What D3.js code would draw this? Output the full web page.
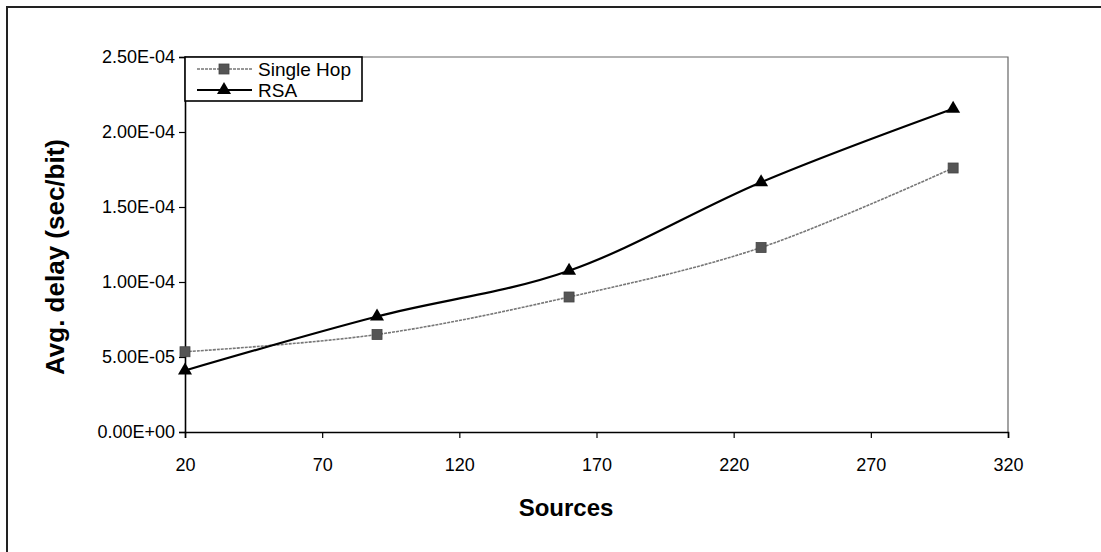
<!DOCTYPE html>
<html>
<head>
<meta charset="utf-8">
<script src="https://cdn.jsdelivr.net/npm/d3@7"></script>
<style>
  html, body { margin: 0; padding: 0; background: #fff; }
  svg { display: block; }
  text { font-family: "Liberation Sans", Arial, sans-serif; fill: #000; }
</style>
</head>
<body>
<svg id="chart" width="1101" height="552"></svg>
<script>
// Number of sources on the network
const sources = [20, 90, 160, 230, 300];
// Average delay per bit (seconds)
const singleHop = [5.35e-5, 6.5e-5, 9.0e-5, 1.23e-4, 1.76e-4];
const rsa = [4.1e-5, 7.7e-5, 1.075e-4, 1.665e-4, 2.155e-4];
const xTicks = [20, 70, 120, 170, 220, 270, 320];
const yTicks = [0, 5e-5, 1e-4, 1.5e-4, 2e-4, 2.5e-4];
const seriesNames = ["Single Hop", "RSA"];

const svg = d3.select("#chart");
const plot = { left: 185, right: 1008, top: 57, bottom: 432 };

const x = d3.scaleLinear().domain([20, 320]).range([plot.left, plot.right]);
const y = d3.scaleLinear().domain([0, 2.5e-4]).range([plot.bottom, plot.top]);

// outer frame (top and left edges)
svg.append("path")
  .attr("d", "M7,552 V7 H1101")
  .attr("fill", "none").attr("stroke", "#222").attr("stroke-width", 2);

// plot area border on the top and right
svg.append("path")
  .attr("d", `M${plot.left},${plot.top} H${plot.right} V${plot.bottom}`)
  .attr("fill", "none").attr("stroke", "#666").attr("stroke-width", 1.2);

const fmt = v => v === 0 ? "0.00E+00" : (() => {
  const e = Math.floor(Math.log10(v) + 1e-9);
  const m = v / Math.pow(10, e);
  const es = (e < 0 ? "-" : "+") + String(Math.abs(e)).padStart(2, "0");
  return m.toFixed(2) + "E" + es;
})();

// y axis
const yAxis = svg.append("g")
  .attr("transform", `translate(${plot.left},0)`)
  .call(d3.axisLeft(y).tickValues(yTicks).tickFormat(fmt).tickSize(6).tickPadding(4));
yAxis.select(".domain").attr("stroke", "#000").attr("stroke-width", 1.6);
yAxis.selectAll(".tick line").attr("stroke", "#000").attr("stroke-width", 1.2);
yAxis.selectAll(".tick text").style("font-size", "18px").style("font-family", "Liberation Sans, Arial, sans-serif");

// x axis
const xAxis = svg.append("g")
  .attr("transform", `translate(0,${plot.bottom})`)
  .call(d3.axisBottom(x).tickValues(xTicks).tickFormat(d3.format("d")).tickSize(6).tickPadding(20));
xAxis.select(".domain").attr("stroke", "#000").attr("stroke-width", 1.6);
xAxis.selectAll(".tick line").attr("stroke", "#000").attr("stroke-width", 1.2);
xAxis.selectAll(".tick text").style("font-size", "18px").style("font-family", "Liberation Sans, Arial, sans-serif");

// axis titles
svg.append("text")
  .attr("x", 566).attr("y", 516)
  .attr("text-anchor", "middle")
  .style("font-size", "24px").style("font-weight", "bold")
  .text("Sources");
svg.append("text")
  .attr("transform", "translate(64,257) rotate(-90)")
  .attr("text-anchor", "middle")
  .style("font-size", "26px").style("font-weight", "bold")
  .text("Avg. delay (sec/bit)");

const line = d3.line()
  .x((d, i) => x(sources[i]))
  .y(d => y(d))
  .curve(d3.curveCatmullRom.alpha(0));

// Single Hop series
svg.append("path")
  .datum(singleHop)
  .attr("d", line)
  .attr("fill", "none").attr("stroke", "#777").attr("stroke-width", 1.6)
  .attr("stroke-dasharray", "3,1");
svg.selectAll(".sq").data(singleHop).enter().append("rect")
  .attr("class", "sq")
  .attr("x", (d, i) => x(sources[i]) - 5).attr("y", d => y(d) - 5)
  .attr("width", 10).attr("height", 10)
  .attr("fill", "#555").attr("stroke", "#444").attr("stroke-width", 0.8);

// RSA series
svg.append("path")
  .datum(rsa)
  .attr("d", line)
  .attr("fill", "none").attr("stroke", "#000").attr("stroke-width", 2.2);
const tri = d3.symbol().type(d3.symbolTriangle).size(85);
svg.selectAll(".tri").data(rsa).enter().append("path")
  .attr("class", "tri")
  .attr("transform", (d, i) => `translate(${x(sources[i])},${y(d)})`)
  .attr("d", tri).attr("fill", "#000");

// legend
const lg = svg.append("g");
lg.append("rect")
  .attr("x", plot.left).attr("y", plot.top)
  .attr("width", 177).attr("height", 44)
  .attr("fill", "#fff").attr("stroke", "#000").attr("stroke-width", 1.6);
const rows = [
  { name: seriesNames[0], cy: 69 },
  { name: seriesNames[1], cy: 90 }
];
rows.forEach((r, i) => {
  lg.append("line")
    .attr("x1", 197).attr("x2", 252).attr("y1", r.cy).attr("y2", r.cy)
    .attr("stroke", i === 0 ? "#777" : "#000")
    .attr("stroke-width", i === 0 ? 1.6 : 2.2)
    .attr("stroke-dasharray", i === 0 ? "3,1" : null);
  if (i === 0) {
    lg.append("rect").attr("x", 219).attr("y", r.cy - 5).attr("width", 10).attr("height", 10)
      .attr("fill", "#555").attr("stroke", "#444").attr("stroke-width", 0.8);
  } else {
    lg.append("path").attr("transform", `translate(224,${r.cy})`).attr("d", tri).attr("fill", "#000");
  }
  lg.append("text")
    .attr("x", 258).attr("y", r.cy)
    .attr("dominant-baseline", "central")
    .style("font-size", "19px")
    .text(r.name);
});
</script>
</body>
</html>
